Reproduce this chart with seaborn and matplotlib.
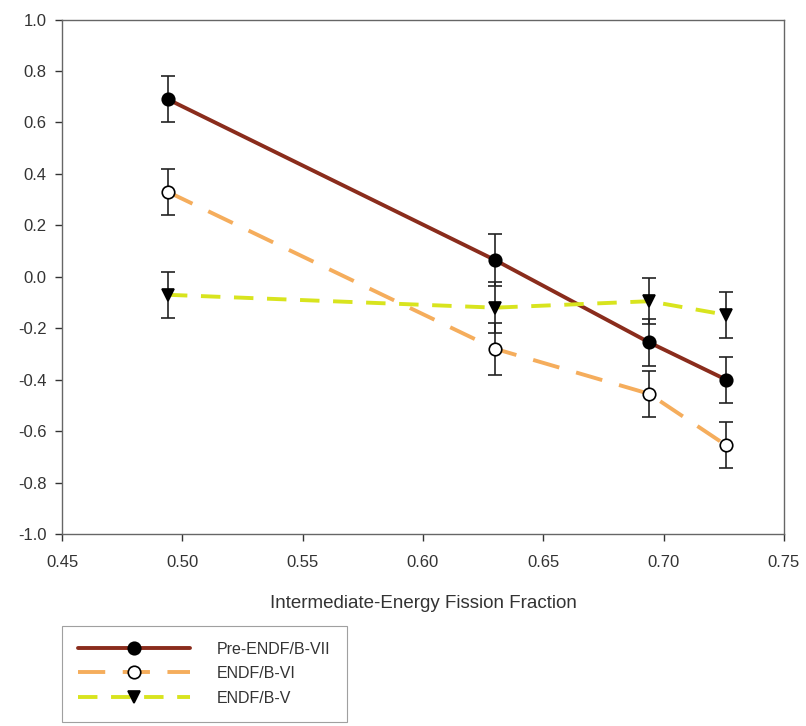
import numpy as np
import pandas as pd
import seaborn as sns
from matplotlib import pyplot as plt

# data
fission_fraction = [0.494, 0.630, 0.694, 0.726]
pre_endf_vii = [0.69, 0.065, -0.255, -0.40]
endf_vi = [0.33, -0.28, -0.455, -0.655]
endf_v = [-0.07, -0.12, -0.095, -0.148]
err_pre = [0.09, 0.10, 0.09, 0.09]
err_vi = [0.09, 0.10, 0.09, 0.09]
err_v = [0.09, 0.10, 0.09, 0.09]

labels = ['Pre-ENDF/B-VII', 'ENDF/B-VI', 'ENDF/B-V']
xticks = [0.45, 0.50, 0.55, 0.60, 0.65, 0.70, 0.75]
yticks = [-1.0, -0.8, -0.6, -0.4, -0.2, 0.0, 0.2, 0.4, 0.6, 0.8, 1.0]

sns.set_style('ticks')
plt.rcParams['font.family'] = ['Liberation Sans', 'DejaVu Sans']

fig = plt.figure(figsize=(8.06, 7.26), dpi=100)
ax = fig.add_axes([0.077, 0.2645, 0.8955, 0.7085])

styles = [
    dict(color='#8a2c1c', marker='o', markerfacecolor='black', linestyle='-'),
    dict(color='#f5ad5c', marker='o', markerfacecolor='white', linestyle=(0, (7, 4.5))),
    dict(color='#d8e41e', marker='v', markerfacecolor='black', linestyle=(0, (5, 3.5))),
]
series = [pre_endf_vii, endf_vi, endf_v]
errs = [err_pre, err_vi, err_v]

for vals, err, lab, st in zip(series, errs, labels, styles):
    ax.errorbar(fission_fraction, vals, yerr=err, fmt='none', ecolor='#222222',
                elinewidth=1.2, capsize=5, capthick=1.2, zorder=2)
    sns.lineplot(x=fission_fraction, y=vals, ax=ax, label=lab, color=st['color'],
                 linestyle=st['linestyle'], linewidth=2.8, marker=st['marker'],
                 markersize=9, markerfacecolor=st['markerfacecolor'],
                 markeredgecolor='black', markeredgewidth=1.2, zorder=3)

ax.set_xlim(0.45, 0.75)
ax.set_ylim(-1.0, 1.0)
ax.set_xticks(xticks)
ax.set_xticklabels(['%.2f' % t for t in xticks])
ax.set_yticks(yticks)
ax.set_yticklabels(['%.1f' % t for t in yticks])
ax.tick_params(labelsize=12, colors='#333333', length=5, width=1, direction='out')
ax.tick_params(axis='x', pad=10)
ax.tick_params(axis='y', pad=6)
for s in ax.spines.values():
    s.set_visible(True)
    s.set_color('#666666')
    s.set_linewidth(1.0)

ax.set_xlabel('Intermediate-Energy Fission Fraction', fontsize=13.5, color='#333333',
              labelpad=18)
ax.set_ylabel('')

leg = ax.legend(loc='lower left', bbox_to_anchor=(0.077, 0.006),
                bbox_transform=fig.transFigure, numpoints=1, handlelength=7.0,
                handletextpad=1.7, fontsize=11.5, frameon=True, fancybox=False,
                edgecolor='#888888', labelspacing=0.6, borderpad=1.0,
                borderaxespad=0)
leg.get_frame().set_linewidth(0.8)
for t in leg.get_texts():
    t.set_color('#333333')

fig.savefig('out.png', dpi=100)
